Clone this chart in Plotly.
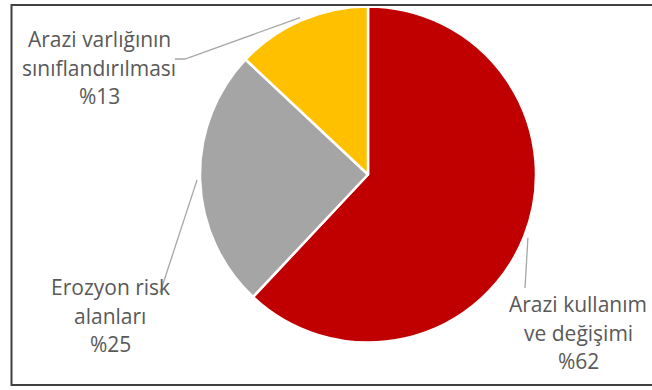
import math
import plotly.graph_objects as go

# ---- data ----
categories = ["Arazi kullanım ve değişimi", "Erozyon risk alanları", "Arazi varlığının sınıflandırılması"]
values = [62, 25, 13]
label_lines = [
    ["Arazi kullanım", "ve değişimi", "%62"],
    ["Erozyon risk", "alanları", "%25"],
    ["Arazi varlığının", "sınıflandırılması", "%13"],
]
colors = ["#C00000", "#A5A5A5", "#FFC000"]

# ---- layout geometry (pixels) ----
W, H = 652, 390
CX, CY, R = 368, 174.5, 168
label_centers = [(578, 304), (110, 287), (99, 39)]   # first line centre per label
line_step = 28.5
leader_ends = [[(525, 288)], [(160, 293)], [(185, 59), (175, 59)]]
leader_gap = [4, 3, 3]

def px(x):
    return x / W

def py(y):
    return 1 - y / H

fig = go.Figure()
fig.add_trace(go.Pie(
    labels=categories,
    values=values,
    sort=False,
    direction="clockwise",
    rotation=0,
    marker=dict(colors=colors, line=dict(color="white", width=2.5)),
    textinfo="none",
    hoverinfo="label+percent",
    showlegend=False,
    domain=dict(x=[px(CX - R), px(CX + R)], y=[py(CY + R), py(CY - R)]),
))

shapes = []
annotations = []
total = sum(values)
cum = 0
for i, v in enumerate(values):
    mid = (cum + v / 2) / total * 2 * math.pi
    cum += v
    r0 = R + leader_gap[i]
    sx, sy = CX + r0 * math.sin(mid), CY - r0 * math.cos(mid)
    pts = [(sx, sy)] + leader_ends[i]
    path = "M " + " L ".join(f"{px(x):.5f},{py(y):.5f}" for x, y in pts)
    shapes.append(dict(type="path", xref="paper", yref="paper", path=path,
                       line=dict(color="#A6A6A6", width=1.3)))
    lx, ly = label_centers[i]
    for k, t in enumerate(label_lines[i]):
        annotations.append(dict(
            x=px(lx), y=py(ly + k * line_step), xref="paper", yref="paper",
            text=t, showarrow=False, xanchor="center", yanchor="middle",
            font=dict(family="Open Sans", size=21, color="#595959"),
        ))

# outer frame (right edge outside the view)
shapes.append(dict(type="rect", xref="paper", yref="paper",
                   x0=px(11.5), x1=px(W + 5), y0=py(385), y1=py(5),
                   line=dict(color="#404040", width=2)))

fig.update_layout(
    width=W, height=H,
    margin=dict(l=0, r=0, t=0, b=0),
    paper_bgcolor="white", plot_bgcolor="white",
    shapes=shapes, annotations=annotations,
)
fig.write_html("out.html")
